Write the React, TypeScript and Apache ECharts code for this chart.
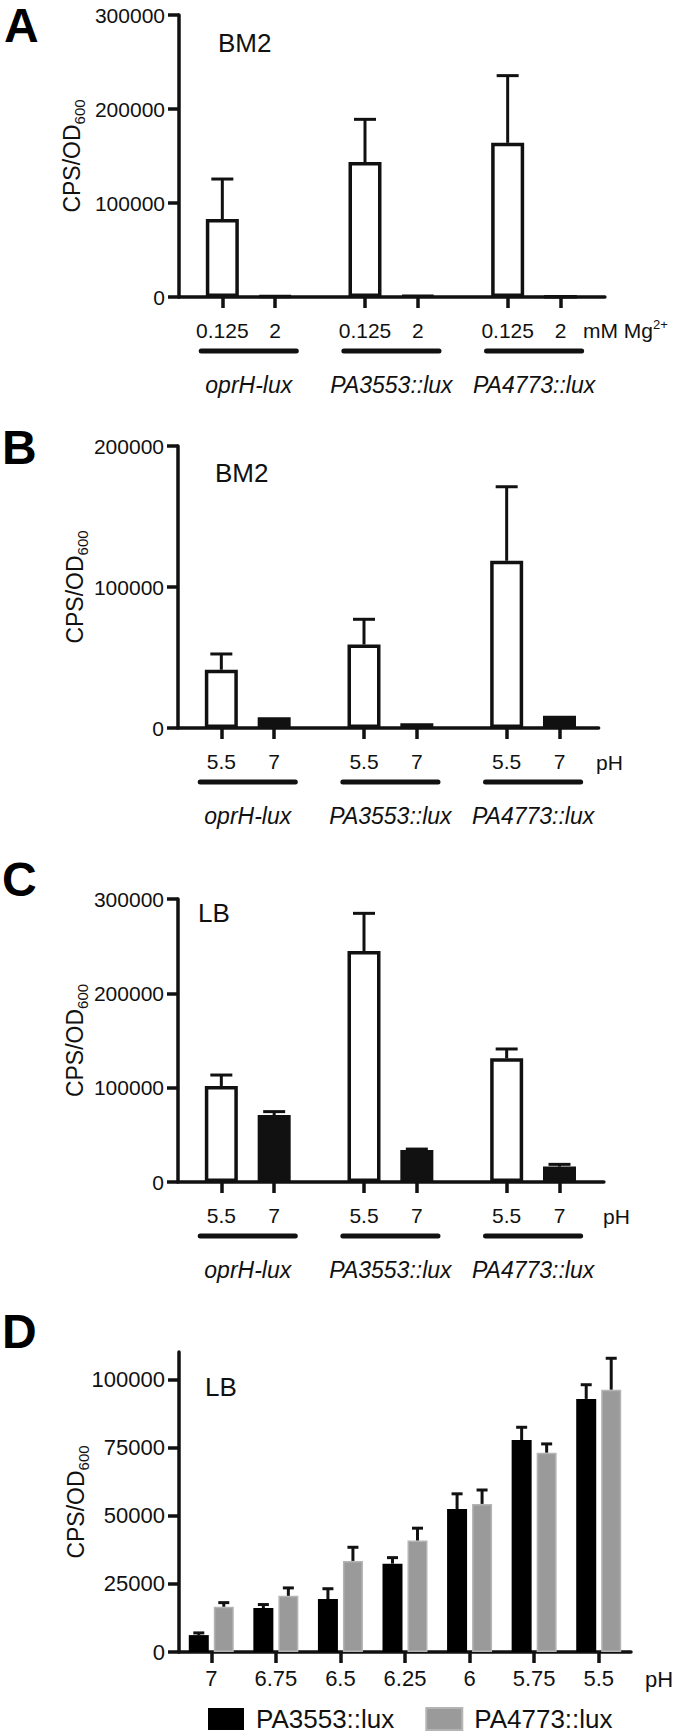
import React, { useEffect, useRef } from "react";
import * as echarts from "echarts";

// ---------- data ----------
const groupNames = ["oprH-lux", "PA3553::lux", "PA4773::lux"];
const mgLevels = ["0.125", "2"];
const phLevels = ["5.5", "7"];

// Panel A: BM2, Mg2+ (mean, SD) – order: oprH 0.125, oprH 2, PA3553 0.125, PA3553 2, PA4773 0.125, PA4773 2
const aMeans = [83000, 1200, 143500, 1500, 164000, 400];
const aSD = [42500, 0, 45500, 0, 71500, 0];
// Panel B: BM2, pH 5.5 / 7
const bMeans = [41300, 7600, 59200, 3300, 118600, 8600];
const bSD = [11200, 0, 17900, 0, 52500, 0];
// Panel C: LB, pH 5.5 / 7
const cMeans = [101800, 71000, 244900, 33900, 131100, 16300];
const cSD = [11600, 3600, 39900, 1000, 9900, 2400];

// Panel D: LB pH series
const dCategories = ["7", "6.75", "6.5", "6.25", "6", "5.75", "5.5"];
const dPA3553 = [6200, 16100, 19400, 32400, 52400, 77700, 92800];
const dPA3553SD = [800, 1300, 3800, 2200, 5600, 4700, 5200];
const dPA4773 = [16600, 20600, 33400, 40900, 54300, 73100, 96200];
const dPA4773SD = [1500, 2900, 5000, 4500, 5100, 3200, 11500];
const dTickValues = [0, 25000, 50000, 75000, 100000];

// ---------- style / layout ----------
const FONT = "'Liberation Sans', Arial, Helvetica, sans-serif";
const INK = "#111";
const GRAY = "#9a9a9a";
const X_MIN = 0.18;
const UNIT = 52.84; // px per slot
const GROUP_STEP = 2.7;
const slot = (i: number) => 1 + Math.floor(i / 2) * GROUP_STEP + (i % 2);

const panels = [
  { top: 15, height: 282, left: 179, xMax: 8.24, yMax: 300000, means: aMeans, sd: aSD, levels: mgLevels, nameGap: 92 },
  { top: 446, height: 282, left: 178, xMax: 8.14, yMax: 200000, means: bMeans, sd: bSD, levels: phLevels, nameGap: 88 },
  { top: 899, height: 283, left: 178, xMax: 8.24, yMax: 300000, means: cMeans, sd: cSD, levels: phLevels, nameGap: 88 },
];

const yName = "{a|CPS/OD}{b|600}";
const yNameStyle = {
  rich: {
    a: { fontSize: 23, fontFamily: FONT, color: INK, lineHeight: 30 },
    b: { fontSize: 15, fontFamily: FONT, color: INK, lineHeight: 14, verticalAlign: "bottom" },
  },
};
const plain = (v: number) => String(v);

function errRender(halfCap: number, offset: number) {
  return (params: any, api: any) => {
    const sd = api.value(2);
    if (!sd) return null;
    const x = api.value(0);
    const m = api.value(1);
    const p0 = api.coord([x, m]);
    const p1 = api.coord([x, m + sd]);
    const cx = p0[0] + offset;
    return {
      type: "group",
      children: [
        { type: "line", shape: { x1: cx, y1: p0[1], x2: cx, y2: p1[1] }, style: { stroke: INK, lineWidth: 3 } },
        { type: "line", shape: { x1: cx - halfCap, y1: p1[1], x2: cx + halfCap, y2: p1[1] }, style: { stroke: INK, lineWidth: 3 } },
      ],
    };
  };
}

function bracketRender(params: any, api: any) {
  const a = api.coord([api.value(0) - 0.4, 0]);
  const b = api.coord([api.value(1) + 0.4, 0]);
  const gi = api.value(2);
  const y0 = a[1];
  return {
    type: "group",
    children: [
      {
        type: "line",
        shape: { x1: a[0], y1: y0 + 54, x2: b[0], y2: y0 + 54 },
        style: { stroke: INK, lineWidth: 5, lineCap: "round" },
      },
      {
        type: "text",
        x: (a[0] + b[0]) / 2,
        y: y0 + 88,
        style: {
          text: groupNames[gi],
          fontSize: 23,
          fontStyle: "italic",
          fontFamily: FONT,
          fill: INK,
          align: "center",
          verticalAlign: "middle",
        },
      },
    ],
  };
}

function buildOption() {
  const grid: any[] = [];
  const xAxis: any[] = [];
  const yAxis: any[] = [];
  const series: any[] = [];

  panels.forEach((p, i) => {
    const positions = p.means.map((_, j) => slot(j));
    grid.push({ left: p.left, top: p.top, width: (p.xMax - X_MIN) * UNIT, height: p.height, outerBoundsMode: "none" });
    xAxis.push({
      type: "value",
      gridIndex: i,
      min: X_MIN,
      max: p.xMax,
      axisLine: { show: true, onZero: false, lineStyle: { color: INK, width: 3.5 } },
      axisTick: { show: true, customValues: positions, length: 11, lineStyle: { color: INK, width: 3.5 } },
      axisLabel: {
        show: true,
        customValues: positions,
        margin: 23,
        fontSize: 21,
        color: INK,
        fontFamily: FONT,
        formatter: (v: number) => {
          const idx = positions.findIndex((q) => Math.abs(q - v) < 1e-6);
          return idx < 0 ? "" : p.levels[idx % 2];
        },
      },
      splitLine: { show: false },
    });
    yAxis.push({
      type: "value",
      gridIndex: i,
      min: 0,
      max: p.yMax,
      interval: 100000,
      axisLine: { show: true, lineStyle: { color: INK, width: 3.5 } },
      axisTick: { show: true, length: 11, lineStyle: { color: INK, width: 3.5 } },
      axisLabel: { margin: 14, fontSize: 21, color: INK, fontFamily: FONT, formatter: plain },
      splitLine: { show: false },
      name: yName,
      nameLocation: "middle",
      nameRotate: 90,
      nameGap: p.nameGap,
      nameMoveOverlap: false,
      nameTextStyle: yNameStyle,
    });
    series.push({
      type: "bar",
      xAxisIndex: i,
      yAxisIndex: i,
      barWidth: 33,
      z: 2,
      data: p.means.map((m, j) => ({
        value: [slot(j), m],
        itemStyle: { color: j % 2 ? INK : "#fff", borderColor: INK, borderWidth: 3.5 },
      })),
    });
    series.push({
      type: "custom",
      xAxisIndex: i,
      yAxisIndex: i,
      clip: false,
      z: 3,
      data: p.means.map((m, j) => [slot(j), m, p.sd[j]]),
      renderItem: errRender(11, 0),
    });
    series.push({
      type: "custom",
      xAxisIndex: i,
      yAxisIndex: i,
      clip: false,
      silent: true,
      data: groupNames.map((_, gi) => [slot(2 * gi), slot(2 * gi + 1), gi]),
      renderItem: bracketRender,
    });
  });

  // Panel D
  grid.push({ left: 179, top: 1352, width: 452, height: 300, outerBoundsMode: "none" });
  xAxis.push({
    type: "category",
    gridIndex: 3,
    data: dCategories,
    axisLine: { show: true, lineStyle: { color: INK, width: 3.5 } },
    axisTick: { show: true, alignWithLabel: true, length: 11, lineStyle: { color: INK, width: 3.5 } },
    axisLabel: { margin: 15, fontSize: 22, color: INK, fontFamily: FONT },
  });
  yAxis.push({
    type: "value",
    gridIndex: 3,
    min: 0,
    max: 110000,
    interval: 25000,
    axisLine: { show: true, lineStyle: { color: INK, width: 3.5 } },
    axisTick: { show: true, customValues: dTickValues, length: 11, lineStyle: { color: INK, width: 3.5 } },
    axisLabel: { customValues: dTickValues, margin: 14, fontSize: 22, color: INK, fontFamily: FONT, formatter: plain },
    splitLine: { show: false },
    name: yName,
    nameLocation: "middle",
    nameRotate: 90,
    nameGap: 88,
    nameMoveOverlap: false,
    nameTextStyle: yNameStyle,
  });
  series.push({
    name: "PA3553::lux",
    type: "bar",
    xAxisIndex: 3,
    yAxisIndex: 3,
    barWidth: 20,
    barGap: "25%",
    itemStyle: { color: "#000" },
    data: dPA3553,
  });
  series.push({
    name: "PA4773::lux",
    type: "bar",
    xAxisIndex: 3,
    yAxisIndex: 3,
    barWidth: 20,
    barGap: "25%",
    itemStyle: { color: GRAY, borderColor: "#b4b4b4", borderWidth: 1.5 },
    data: dPA4773,
  });
  series.push({
    type: "custom",
    xAxisIndex: 3,
    yAxisIndex: 3,
    clip: false,
    z: 3,
    data: dPA3553.map((m, j) => [j, m, dPA3553SD[j]]),
    renderItem: errRender(5.5, -12.5),
  });
  series.push({
    type: "custom",
    xAxisIndex: 3,
    yAxisIndex: 3,
    clip: false,
    z: 3,
    data: dPA4773.map((m, j) => [j, m, dPA4773SD[j]]),
    renderItem: errRender(5.5, 12.5),
  });

  const letter = (t: string, x: number, y: number) => ({
    type: "text",
    x,
    y,
    style: { text: t, fontSize: 48, fontWeight: "bold", fontFamily: FONT, fill: "#000", align: "left", verticalAlign: "middle" },
  });
  const medium = (t: string, x: number, y: number) => ({
    type: "text",
    x,
    y,
    style: { text: t, fontSize: 26, fontFamily: FONT, fill: INK, align: "left", verticalAlign: "middle" },
  });
  const unit = (t: string, x: number, y: number, size: number) => ({
    type: "text",
    x,
    y,
    style: { text: t, fontSize: size, fontFamily: FONT, fill: INK, align: "left", verticalAlign: "middle" },
  });

  const graphic = [
    letter("A", 4, 25),
    letter("B", 2, 447),
    letter("C", 2, 879),
    letter("D", 2, 1331),
    medium("BM2", 218, 43),
    medium("BM2", 215, 473),
    medium("LB", 198, 913),
    medium("LB", 205, 1387),
    {
      type: "text",
      x: 583,
      y: 330,
      style: {
        text: "mM Mg{sup|2+}",
        fontSize: 21,
        fontFamily: FONT,
        fill: INK,
        lineHeight: 24,
        align: "left",
        verticalAlign: "middle",
        rich: { sup: { fontSize: 13, fontFamily: FONT, fill: INK, lineHeight: 13, verticalAlign: "top" } },
      },
    },
    unit("pH", 596, 762, 21),
    unit("pH", 603, 1216, 21),
    unit("pH", 645, 1679, 22),
  ];

  return {
    animation: false,
    backgroundColor: "#fff",
    grid,
    xAxis,
    yAxis,
    series,
    graphic,
    legend: {
      data: ["PA3553::lux", "PA4773::lux"],
      left: 208,
      top: 1706,
      itemWidth: 36,
      itemHeight: 22,
      itemGap: 31,
      icon: "rect",
      selectedMode: false,
      padding: 0,
      textStyle: { fontSize: 26, lineHeight: 24, fontFamily: FONT, color: INK, padding: [0, 0, 0, 7] },
    },
  };
}

export default function App() {
  const ref = useRef<HTMLDivElement>(null);
  useEffect(() => {
    if (!ref.current) return;
    const chart = echarts.init(ref.current, undefined, { renderer: "svg" });
    chart.setOption(buildOption() as any);
    return () => chart.dispose();
  }, []);
  return (
    <div
      ref={ref}
      style={{ position: "absolute", left: 0, top: 0, width: 680, height: 1733, background: "#fff" }}
    />
  );
}
